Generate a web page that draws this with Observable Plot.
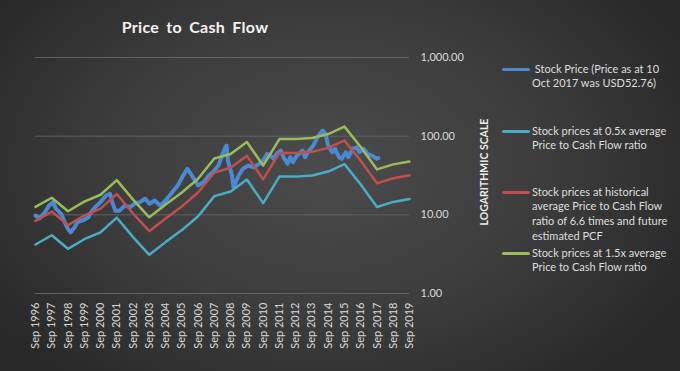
<!DOCTYPE html>
<html>
<head>
<meta charset="utf-8">
<script src="https://cdn.jsdelivr.net/npm/d3@7"></script>
<script src="https://cdn.jsdelivr.net/npm/@observablehq/plot@0.6"></script>
<style>
  html, body { margin: 0; padding: 0; background: #2a2a2a; }
  #wrap {
    position: relative; width: 680px; height: 371px; overflow: hidden;
    background: radial-gradient(ellipse 60% 75% at 48% 45%, #4b4b4b 0%, #3c3c3c 55%, #282828 100%);
    font-family: Lato, "Open Sans", sans-serif;
  }
  #title {
    position: absolute; left: 0; width: 390px; top: 17px; text-align: center;
    color: #f2f2f2; font-weight: bold; font-size: 16px; word-spacing: 3px; letter-spacing: 0.3px;
  }
  .leg { position: absolute; left: 502px; }
  .leg .sw { position: absolute; left: 0; width: 28px; height: 3px; border-radius: 1.5px; }
  .leg .tx { position: absolute; left: 30px; width: 160px; color: #dedede; font-size: 11px; line-height: 14.7px; white-space: nowrap; }
  #ylab {
    position: absolute; left: 484px; top: 172px; transform: translate(-50%, -50%) rotate(-90deg);
    color: #ececec; font-weight: bold; font-size: 10.5px; white-space: nowrap;
  }
  #chart { position: absolute; left: 0; top: 0; }
</style>
</head>
<body>
<div id="wrap">
  <div id="chart"></div>
  <div id="title">Price to Cash Flow</div>
  <div id="ylab">LOGARITHMIC SCALE</div>
  <div id="legend"></div>
</div>
<script>
// ---- Data ----
const seriesNames = [
  "Stock Price (Price as at 10 Oct 2017 was USD52.76)",
  "Stock prices at 0.5x average Price to Cash Flow ratio",
  "Stock prices at historical average Price to Cash Flow ratio of 6.6 times and future estimated PCF",
  "Stock prices at 1.5x average Price to Cash Flow ratio"
];
const legendLines = [
  [" Stock Price (Price as at 10", "Oct 2017 was USD52.76)"],
  ["Stock prices at 0.5x average", "Price to Cash Flow ratio"],
  ["Stock prices at historical", "average Price to Cash Flow", "ratio of 6.6 times and future", "estimated PCF"],
  ["Stock prices at 1.5x average", "Price to Cash Flow ratio"]
];
const seriesColors = ["#4a8ad4", "#4bacc6", "#c0504d", "#9bbb59"];

const priceDates = [
  "1996-09","1996-12","1997-04","1997-07","1997-10","1997-12","1998-04","1998-06","1998-09",
  "1998-11","1999-02","1999-04","1999-08","1999-12","2000-02","2000-05","2000-09","2001-01",
  "2001-04","2001-06","2001-08","2001-11","2002-03","2002-07","2002-10","2003-02","2003-06",
  "2003-09","2004-01","2004-05","2004-08","2004-12","2005-03","2005-06","2005-10","2006-01",
  "2006-03","2006-06","2006-09","2007-01","2007-05","2007-08","2007-12","2008-04","2008-06",
  "2008-07","2008-10","2008-11","2009-03","2009-06","2009-10","2010-02","2010-06","2010-09",
  "2010-12","2011-02","2011-05","2011-07","2011-10","2011-12","2012-03","2012-05","2012-07",
  "2012-10","2013-02","2013-04","2013-06","2013-10","2014-01","2014-05","2014-07","2014-09",
  "2014-12","2015-02","2015-05","2015-07","2015-10","2015-12","2016-03","2016-06","2016-08",
  "2016-11","2017-02","2017-05","2017-09","2017-10"
];
const priceValues = [
  9.8, 9.0, 10.8, 13.1, 14.5, 12.0, 10.3, 8.5, 6.6,
  6.0, 7.0, 8.1, 8.5, 9.3, 10.8, 12.5, 14.5, 17.6,
  18.5, 13.8, 11.3, 11.3, 13.1, 12.5, 13.8, 14.5, 16.0,
  13.8, 15.2, 13.1, 14.5, 17.6, 20.4, 23.6, 31.6, 38.4,
  34.5, 28.7, 23.6, 26.0, 31.6, 34.8, 42.3, 65.6, 76.0,
  49.0, 31.6, 22.5, 31.6, 38.4, 42.3, 40.3, 44.5, 49.0,
  59.6, 56.7, 51.5, 59.6, 65.6, 54.0, 44.5, 54.0, 46.6,
  56.7, 65.6, 54.0, 62.4, 76.0, 96.8, 118.0, 107.0, 76.0,
  62.4, 69.0, 54.0, 51.5, 62.4, 54.0, 69.0, 72.3, 62.4,
  69.0, 59.6, 56.7, 51.5, 52.76
];

const ratioYears = [1996,1997,1998,1999,2000,2001,2002,2003,2004,2005,2006,2007,
                    2008,2009,2010,2011,2012,2013,2014,2015,2016,2017,2018,2019];
const halfAvgValues = [4.2,5.5,3.7,4.9,6.0,9.2,5.2,3.1,4.5,6.4,9.6,17.3,
                       19.8,28.1,14.1,30.6,30.6,31.6,35.5,44.1,24.3,12.6,14.6,15.9];
const avgValues = [8.4,11.0,7.4,9.8,12.0,18.4,10.4,6.2,9.0,12.8,19.2,34.6,
                   39.6,56.2,28.2,61.2,61.2,63.2,71.0,88.2,48.6,25.2,29.2,31.8];
const oneHalfAvgValues = [12.6,16.5,11.1,14.7,18.0,27.6,15.6,9.3,13.5,19.2,28.8,51.9,
                          59.4,84.3,42.3,91.8,91.8,94.8,106.5,132.3,72.9,37.8,43.8,47.7];

const yTicks = [1, 10, 100, 1000];
const xTickYears = ratioYears;

// ---- Build tables ----
const parseYM = d3.utcParse("%Y-%m");
const priceData = priceDates.map((d, i) => ({date: parseYM(d), value: priceValues[i]}));
const sepDate = y => new Date(Date.UTC(y, 8, 1));
const mk = vals => ratioYears.map((y, i) => ({date: sepDate(y), value: vals[i]}));
const halfData = mk(halfAvgValues);
const avgData = mk(avgValues);
const oneHalfData = mk(oneHalfAvgValues);
const xTicks = xTickYears.map(sepDate);

const chart = Plot.plot({
  width: 680,
  height: 371,
  marginLeft: 35,
  marginRight: 271,
  marginTop: 57,
  marginBottom: 78,
  style: {background: "transparent", color: "#d9d9d9", fontFamily: "Lato, 'Open Sans', sans-serif", fontSize: "11px"},
  x: {type: "utc", domain: [sepDate(1996), sepDate(2019)]},
  y: {type: "log", domain: [1, 1000]},
  marks: [
    Plot.gridY(yTicks, {stroke: "#626262", strokeOpacity: 1, strokeWidth: 1}),
    Plot.axisY(yTicks, {anchor: "right", tickSize: 0, tickPadding: 11, tickFormat: d3.format(",.2f"), label: null, fill: "#d9d9d9"}),
    Plot.axisX(xTicks, {tickRotate: -90, tickSize: 0, tickPadding: 9, tickFormat: d3.utcFormat("%b %Y"), label: null, fill: "#d9d9d9"}),
    Plot.line(priceData, {x: "date", y: "value", stroke: seriesColors[0], strokeWidth: 4, strokeLinejoin: "round"}),
    Plot.line(halfData, {x: "date", y: "value", stroke: seriesColors[1], strokeWidth: 2.5}),
    Plot.line(avgData, {x: "date", y: "value", stroke: seriesColors[2], strokeWidth: 2.5}),
    Plot.line(oneHalfData, {x: "date", y: "value", stroke: seriesColors[3], strokeWidth: 2.5})
  ]
});
document.getElementById("chart").appendChild(chart);

// ---- Legend ----
const legendTops = [69, 131, 192, 253];
const legend = document.getElementById("legend");
legendLines.forEach((lines, i) => {
  const item = document.createElement("div");
  item.className = "leg";
  item.style.top = legendTops[i] + "px";
  item.title = seriesNames[i];
  const sw = document.createElement("div");
  sw.className = "sw";
  sw.style.background = seriesColors[i];
  sw.style.top = "-1.5px";
  item.appendChild(sw);
  const tx = document.createElement("div");
  tx.className = "tx";
  tx.style.top = "-7.5px";
  tx.innerHTML = lines.map(l => l.replace(/^ /, "&nbsp;")).join("<br>");
  item.appendChild(tx);
  legend.appendChild(item);
});
</script>
</body>
</html>
